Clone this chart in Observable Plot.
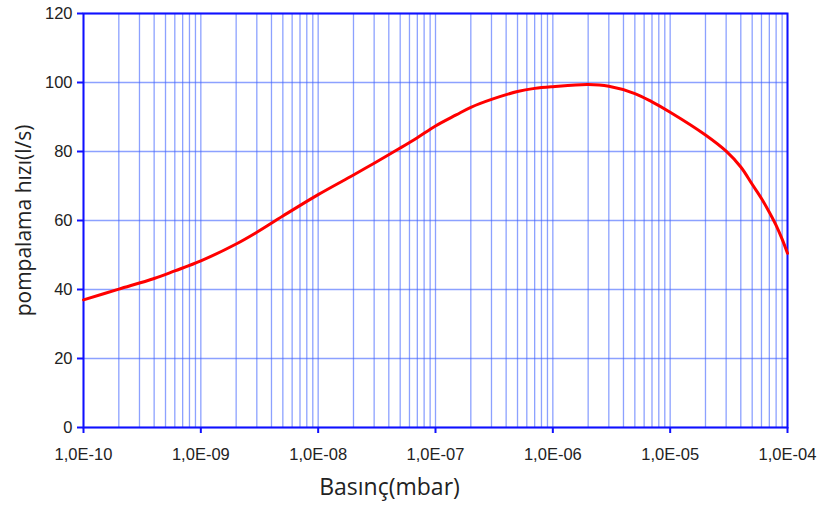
<!DOCTYPE html>
<html>
<head>
<meta charset="utf-8">
<script src="https://cdn.jsdelivr.net/npm/d3@7"></script>
<script src="https://cdn.jsdelivr.net/npm/@observablehq/plot@0.6"></script>
<style>
  html, body { margin: 0; padding: 0; background: #fff; }
  #chart { width: 822px; height: 505px; }
</style>
</head>
<body>
<div id="chart"></div>
<script>
// Pressure (mbar) and pumping speed (l/s)
const pressure = [1e-10, 2e-10, 4e-10, 6e-10, 1e-9, 2e-9, 3e-9, 5e-9, 1e-8, 2e-8, 3e-8, 5e-8, 7e-8, 1e-7, 1.5e-7, 2e-7, 3e-7, 5e-7, 7e-7, 1e-6, 2e-6, 3e-6, 5e-6, 7e-6, 1e-5, 2e-5, 3e-5, 4e-5, 5e-5, 6e-5, 7e-5, 8e-5, 9e-5, 1e-4];
const speed    = [37.0, 40.1, 43.2, 45.4, 48.3, 53.2, 56.6, 61.3, 67.5, 73.2, 76.6, 81.0, 84.0, 87.4, 90.6, 92.8, 95.1, 97.4, 98.3, 98.8, 99.4, 98.9, 96.8, 94.4, 91.4, 84.8, 80.1, 75.5, 70.5, 66.4, 62.4, 58.6, 54.6, 50.5];

const xTickValues = [1e-10, 1e-9, 1e-8, 1e-7, 1e-6, 1e-5, 1e-4];
const xTickLabels = ["1,0E-10", "1,0E-09", "1,0E-08", "1,0E-07", "1,0E-06", "1,0E-05", "1,0E-04"];
const yTickValues = [0, 20, 40, 60, 80, 100, 120];
const xTitle = "Basınç(mbar)";
const yTitle = "pompalama hızı(l/s)";

const data = pressure.map((p, i) => ({p, s: speed[i]}));

// minor grid: 1..9 x each decade
const gridX = [];
for (let e = -10; e < -4; e++) for (let m = 1; m <= 9; m++) gridX.push(m * Math.pow(10, e));
gridX.push(1e-4);

const labelOf = new Map(xTickValues.map((v, i) => [v, xTickLabels[i]]));

const chart = Plot.plot({
  width: 822,
  height: 505,
  marginLeft: 83,
  marginRight: 35,
  marginTop: 13,
  marginBottom: 78,
  style: {fontFamily: "'Liberation Sans', Arial, sans-serif", background: "#fff"},
  x: {type: "log", domain: [1e-10, 1e-4]},
  y: {domain: [0, 120]},
  marks: [
    Plot.ruleX(gridX, {stroke: "#3f63ff", strokeOpacity: 0.6, strokeWidth: 1.3}),
    Plot.ruleY(yTickValues, {stroke: "#3f63ff", strokeOpacity: 0.6, strokeWidth: 1.3}),
    Plot.frame({stroke: "#1010ff", strokeWidth: 2}),
    Plot.axisX(xTickValues, {
      tickFormat: d => labelOf.get(d),
      tickSize: 6, tickPadding: 15, fontSize: 16.5, stroke: "#1010ff", strokeWidth: 2,
      color: "#222", label: null
    }),
    Plot.axisY(yTickValues, {
      tickSize: 6, tickPadding: 5, fontSize: 16.5, stroke: "#1010ff", strokeWidth: 2,
      color: "#222", label: null
    }),
    Plot.text([xTitle], {frameAnchor: "bottom", textAnchor: "middle", lineAnchor: "bottom", dx: -46, dy: 67, fontSize: 23, fill: "#222", fontFamily: "'Open Sans', Lato, sans-serif"}),
    Plot.text([yTitle], {frameAnchor: "left", textAnchor: "middle", lineAnchor: "middle", dx: -59, rotate: -90, fontSize: 21, fill: "#222", fontFamily: "'Open Sans', Lato, sans-serif"}),
    Plot.line(data, {x: "p", y: "s", stroke: "#ff0000", strokeWidth: 3, curve: "catmull-rom"})
  ]
});
document.getElementById("chart").appendChild(chart);
</script>
</body>
</html>
